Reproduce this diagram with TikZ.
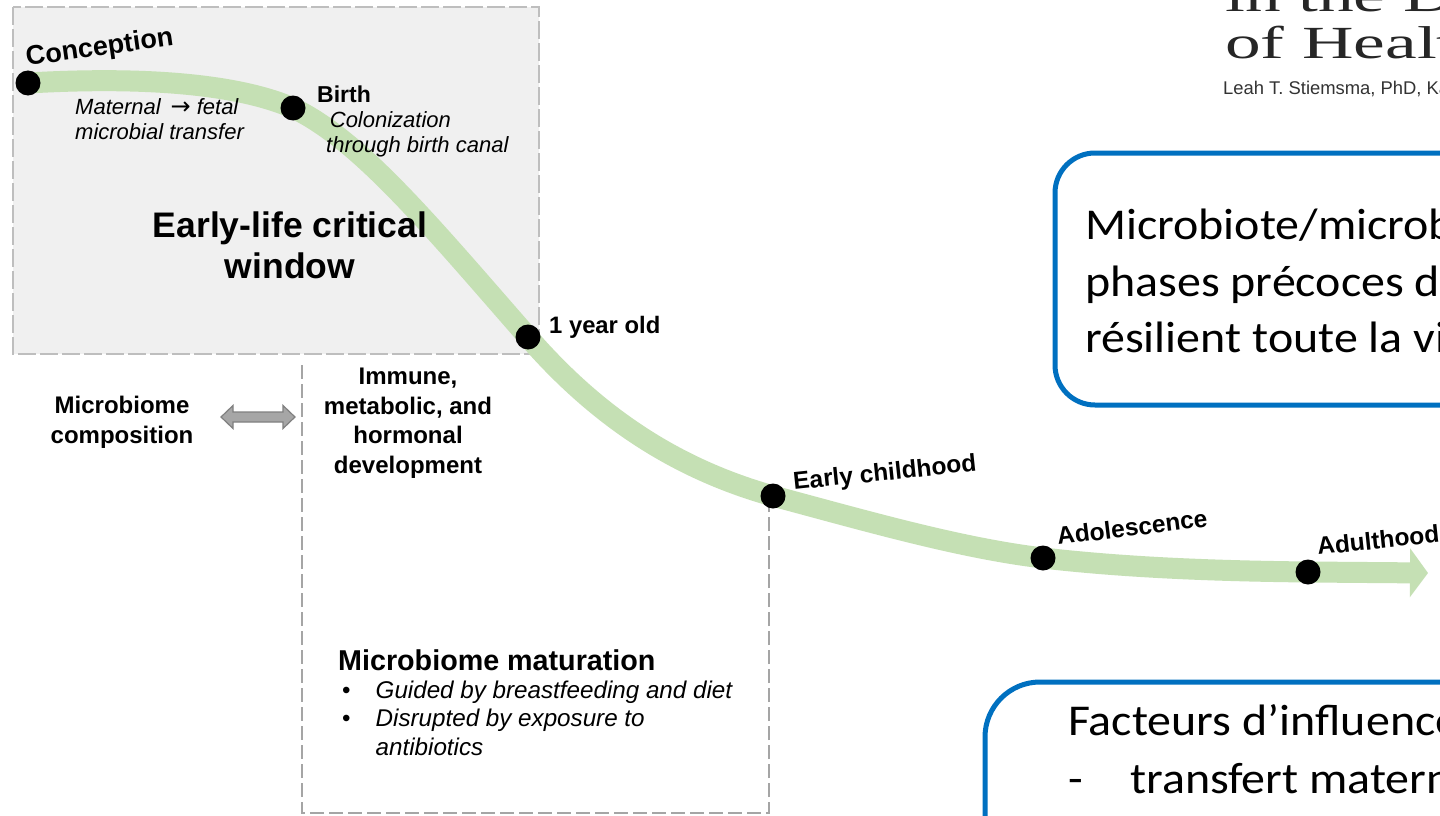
\documentclass[tikz,border=0pt]{standalone}
\usepackage{fontspec}
\setmainfont{Liberation Sans}
\newfontfamily\calibrifont[FakeStretch=1.09]{Carlito}
\newfontfamily\headfont[FakeStretch=1.55]{Liberation Serif}
\newfontfamily\arrowfont{DejaVu Sans}
\usetikzlibrary{positioning, arrows.meta}

\definecolor{lifegreen}{RGB}{197,224,180}
\definecolor{boxblue}{RGB}{0,112,192}
\definecolor{windowgray}{RGB}{240,240,240}
\definecolor{windowedge}{RGB}{190,190,190}
\definecolor{framegray}{RGB}{165,165,165}

\tikzset{
  lifeline/.style={line width=21pt, draw=lifegreen, -{Triangle[length=18pt,width=48pt]}},
  dot/.style={circle, fill=black, minimum size=25pt, inner sep=0pt},
  stagelabel/.style={font=\bfseries\fontsize{24.5}{28}\selectfont, inner sep=0pt},
  note/.style={font=\itshape\fontsize{22}{25.5}\selectfont, align=left, inner sep=0pt},
  blocklabel/.style={font=\bfseries\fontsize{24}{29.5}\selectfont, align=center, inner sep=0pt},
  window/.style={draw=windowedge, fill=windowgray, line width=1.5pt, dash pattern=on 18pt off 4pt},
  frame/.style={draw=framegray, line width=1.5pt, dash pattern=on 14pt off 5pt},
  twoway/.style={draw=black!50, fill=black!35, line width=1.2pt},
  keybox/.style={draw=boxblue, line width=5pt, fill=white, rounded corners=40pt, outer sep=0pt, inner sep=0pt},
  keytext/.style={font=\calibrifont\fontsize{44}{56.5}\selectfont, align=left, inner sep=0pt}
}

\begin{document}
\begin{tikzpicture}[x=1pt, y=-1pt]
    \useasboundingbox (0,0) rectangle (1440,816);
    \clip (0,0) rectangle (1440,816);
    \fill[white] (0,0) rectangle (1440,816);

    % fenetre critique + cadre du bas
    \draw[window] (13,7) rectangle (539,354);
    \draw[frame] (302,365) -- (302,813) -- (769,813) -- (769,505);

    % etapes de la vie
    \coordinate (conc) at (28,83);
    \coordinate (birth) at (293,108);
    \coordinate (oneyr) at (528,337);
    \coordinate (earlych) at (773,496);
    \coordinate (adol) at (1043,558);
    \coordinate (adult) at (1308,572);
    \coordinate (lifeend) at (1428,573);

    \draw[lifeline] (conc) .. controls (150,76) and (240,85) .. (birth)
        .. controls (360,140) and (430,225) .. (oneyr)
        .. controls (600,420) and (680,470) .. (earlych)
        .. controls (870,522) and (960,548) .. (adol)
        .. controls (1130,568) and (1220,571) .. (adult) -- (lifeend);

    \foreach \p in {conc,birth,oneyr,earlych,adol,adult}
        \node[dot] (\p dot) at (\p) {};

    \node[stagelabel, font=\bfseries\fontsize{27}{30}\selectfont, rotate=8, anchor=base west] (conclbl) at (27,66) {Conception};
    \node[stagelabel, font=\bfseries\fontsize{23}{28}\selectfont, anchor=base west] (birthlbl) at (317,102) {Birth};
    \node[stagelabel, font=\bfseries\fontsize{23.8}{28}\selectfont, anchor=base west] (oneyrlbl) at (549,333) {1 year old};
    \node[stagelabel, rotate=6, anchor=base west] (earlychlbl) at (794,490) {Early childhood};
    \node[stagelabel, rotate=7, anchor=base west] (adollbl) at (1058,545) {Adolescence};
    \node[stagelabel, rotate=6, anchor=base west] (adultlbl) at (1318,555) {Adulthood};

    \node[note, anchor=north west] (transfer) at (75,98) {Maternal \,{\upshape\arrowfont\fontsize{24}{20}\selectfont →} fetal\\microbial transfer};
    \node[note, anchor=north west] (colon) at (326,111) {\,Colonization\\through birth canal};

    \node[font=\bfseries\fontsize{35.5}{41}\selectfont, align=center, inner sep=0pt, anchor=north]
        (windowlbl) at (290,212) {Early-life critical\\window};

    % composition <-> developpement
    \node[blocklabel, anchor=north] (complbl) at (122,396) {Microbiome\\composition};
    \node[blocklabel, anchor=north] (devlbl) at (408,368) {Immune,\\metabolic, and\\hormonal\\development};
    \coordinate (compL) at (221,417);
    \coordinate (compR) at (295,417);
    \draw[twoway] (compL) -- ++(12,-11.5) -- ++(0,6.5) -- ++(50,0) -- ++(0,-6.5) -- (compR)
        -- ++(-12,11.5) -- ++(0,-6.5) -- ++(-50,0) -- ++(0,6.5) -- cycle;

    \node[anchor=base west, inner sep=0pt, font=\bfseries\fontsize{28.7}{32}\selectfont]
        (matlbl) at (338,670) {Microbiome maturation};
    \node[anchor=north west, inner sep=0pt, font=\fontsize{24.2}{28.5}\selectfont] (matlist) at (342,678)
        {\begin{tabular}{@{}l@{\hspace{25pt}}l@{}}
          \textbullet & \textit{Guided by breastfeeding and diet}\\
          \textbullet & \textit{Disrupted by exposure to}\\
                      & \textit{antibiotics}
         \end{tabular}};

    % en-tete de l'article
    \node[anchor=base west, inner sep=0pt, text=black!85, font=\headfont\fontsize{46}{47}\selectfont]
        (headone) at (1225,12) {in the Developmental};
    \node[anchor=base west, inner sep=0pt, text=black!85, font=\headfont\fontsize{46}{47}\selectfont]
        (headtwo) at (1225,59) {of Health and Disease};
    \node[anchor=base west, inner sep=0pt, text=black!80, font=\fontsize{18.4}{21}\selectfont]
        (authors) at (1223,95) {Leah T. Stiemsma, PhD, Karin B. Michels};

    % encadres bleus
    \node[keybox, anchor=north west, minimum width=465pt, minimum height=252pt] (lifelongbox) at (1055,153) {};
    \node[keytext, anchor=north west] (lifelongtxt) at (1085,209)
        {Microbiote/microbiome\\phases précoces de la vie\\résilient toute la vie};
    \node[keybox, rounded corners=55pt, anchor=north west, minimum width=520pt, minimum height=250pt] (factorbox) at (985,682) {};
    \node[keytext, font=\calibrifont\fontsize{44}{58}\selectfont, anchor=north west] (factortxt) at (1068,704)
        {Facteurs d’influence\\\makebox[62pt][l]{-}transfert maternel};
\end{tikzpicture}
\end{document}
